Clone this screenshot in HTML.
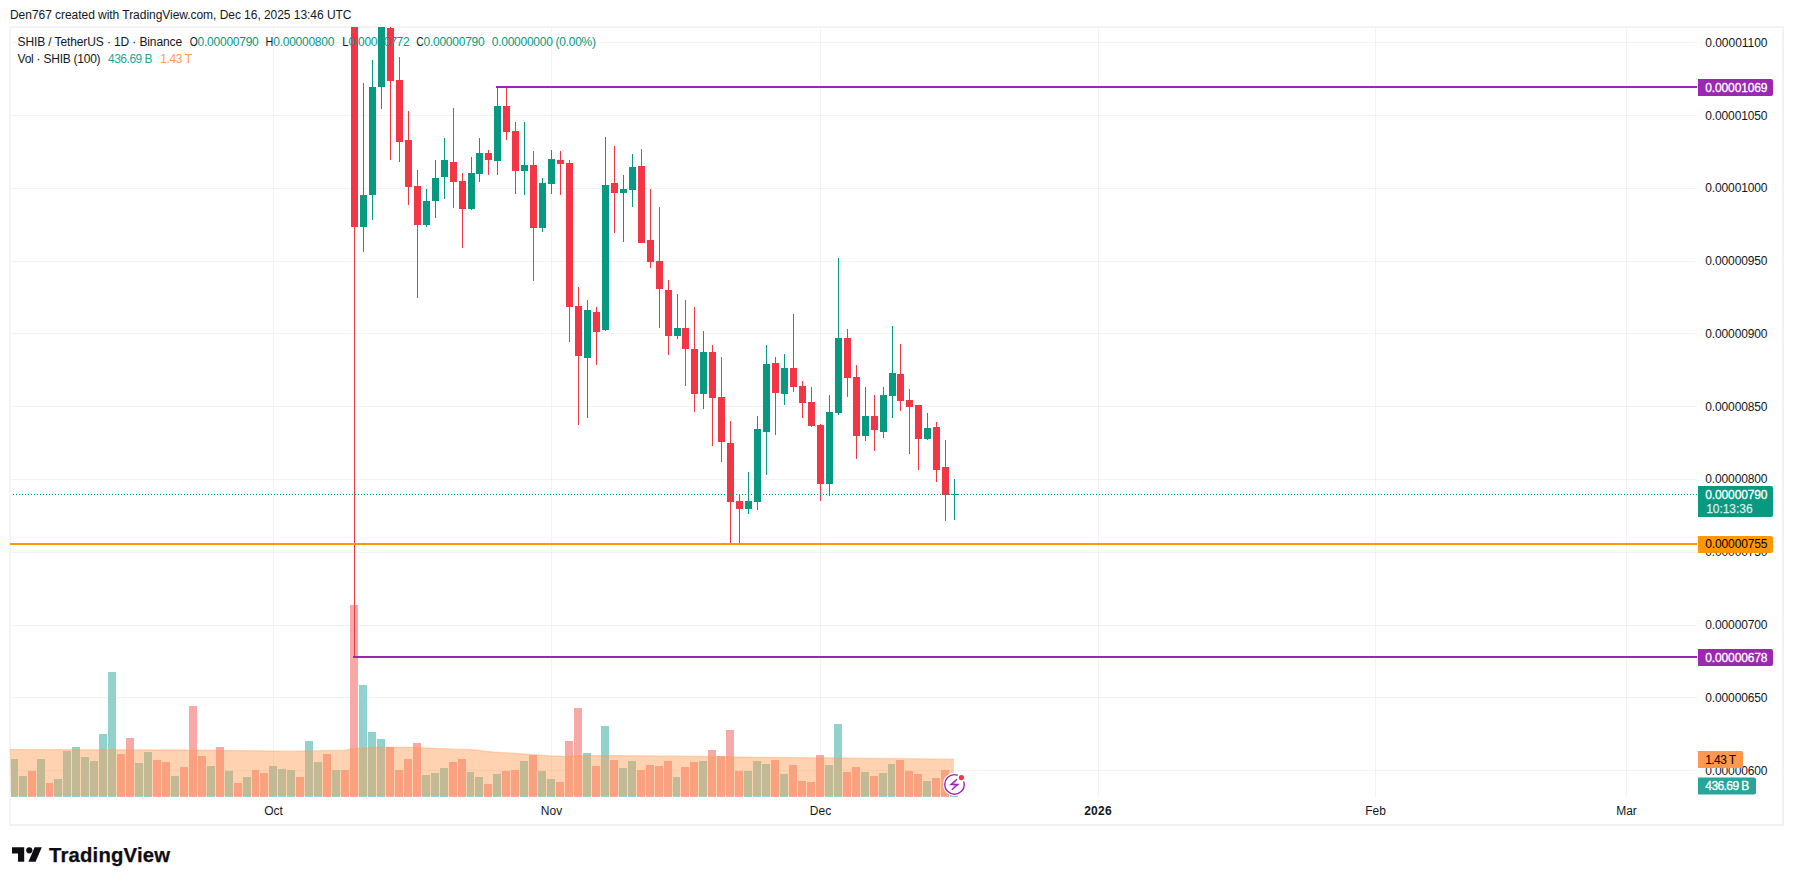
<!DOCTYPE html>
<html lang="en"><head><meta charset="utf-8"><title>SHIB / TetherUS chart</title>
<style>html,body{margin:0;padding:0;background:#fff;overflow:hidden}svg{display:block}</style>
</head><body>
<svg width="1793" height="885" viewBox="0 0 1793 885" font-family='"Liberation Sans", "DejaVu Sans", sans-serif' font-size="12">
<rect width="1793" height="885" fill="#fff"/>
<g shape-rendering="crispEdges" fill="rgba(42,46,57,0.06)">
<rect x="10" y="42" width="1687" height="1"/>
<rect x="10" y="115" width="1687" height="1"/>
<rect x="10" y="188" width="1687" height="1"/>
<rect x="10" y="261" width="1687" height="1"/>
<rect x="10" y="333" width="1687" height="1"/>
<rect x="10" y="406" width="1687" height="1"/>
<rect x="10" y="479" width="1687" height="1"/>
<rect x="10" y="552" width="1687" height="1"/>
<rect x="10" y="625" width="1687" height="1"/>
<rect x="10" y="697" width="1687" height="1"/>
<rect x="10" y="770" width="1687" height="1"/>
<rect x="273" y="27" width="1" height="770"/>
<rect x="551" y="27" width="1" height="770"/>
<rect x="820" y="27" width="1" height="770"/>
<rect x="1098" y="27" width="1" height="770"/>
<rect x="1375" y="27" width="1" height="770"/>
<rect x="1626" y="27" width="1" height="770"/>
</g>
<g fill="#F2F2F2">
<rect x="9.3" y="26.2" width="1774.7" height="1.8"/>
<rect x="9.3" y="824" width="1774.7" height="2"/>
<rect x="9.3" y="28" width="1.7" height="796"/>
<rect x="1782" y="28" width="2" height="796"/>
</g>
<g shape-rendering="crispEdges">
<rect x="11" y="759" width="7" height="38" fill="#92D2CC"/>
<rect x="19" y="776" width="8" height="21" fill="#92D2CC"/>
<rect x="28" y="771" width="8" height="26" fill="#F7A9A7"/>
<rect x="37" y="759" width="8" height="38" fill="#92D2CC"/>
<rect x="46" y="783" width="7" height="14" fill="#F7A9A7"/>
<rect x="54" y="779" width="8" height="18" fill="#92D2CC"/>
<rect x="63" y="751" width="8" height="46" fill="#92D2CC"/>
<rect x="72" y="747" width="8" height="50" fill="#92D2CC"/>
<rect x="81" y="757" width="8" height="40" fill="#92D2CC"/>
<rect x="90" y="761" width="8" height="36" fill="#92D2CC"/>
<rect x="99" y="734" width="8" height="63" fill="#92D2CC"/>
<rect x="108" y="672" width="8" height="125" fill="#92D2CC"/>
<rect x="117" y="754" width="8" height="43" fill="#F7A9A7"/>
<rect x="126" y="738" width="8" height="59" fill="#F7A9A7"/>
<rect x="135" y="763" width="8" height="34" fill="#92D2CC"/>
<rect x="144" y="752" width="8" height="45" fill="#92D2CC"/>
<rect x="153" y="760" width="8" height="37" fill="#F7A9A7"/>
<rect x="162" y="762" width="8" height="35" fill="#F7A9A7"/>
<rect x="171" y="776" width="8" height="21" fill="#92D2CC"/>
<rect x="180" y="767" width="8" height="30" fill="#F7A9A7"/>
<rect x="189" y="706" width="8" height="91" fill="#F7A9A7"/>
<rect x="198" y="756" width="8" height="41" fill="#F7A9A7"/>
<rect x="207" y="766" width="8" height="31" fill="#92D2CC"/>
<rect x="216" y="747" width="8" height="50" fill="#F7A9A7"/>
<rect x="225" y="771" width="8" height="26" fill="#92D2CC"/>
<rect x="234" y="783" width="8" height="14" fill="#F7A9A7"/>
<rect x="243" y="777" width="8" height="20" fill="#92D2CC"/>
<rect x="252" y="770" width="7" height="27" fill="#F7A9A7"/>
<rect x="260" y="773" width="8" height="24" fill="#F7A9A7"/>
<rect x="269" y="766" width="8" height="31" fill="#92D2CC"/>
<rect x="278" y="769" width="8" height="28" fill="#92D2CC"/>
<rect x="287" y="770" width="8" height="27" fill="#92D2CC"/>
<rect x="296" y="777" width="8" height="20" fill="#F7A9A7"/>
<rect x="305" y="741" width="8" height="56" fill="#92D2CC"/>
<rect x="314" y="762" width="8" height="35" fill="#92D2CC"/>
<rect x="323" y="754" width="8" height="43" fill="#F7A9A7"/>
<rect x="332" y="770" width="8" height="27" fill="#92D2CC"/>
<rect x="341" y="770" width="8" height="27" fill="#F7A9A7"/>
<rect x="350" y="605" width="8" height="192" fill="#F7A9A7"/>
<rect x="359" y="685" width="8" height="112" fill="#92D2CC"/>
<rect x="368" y="732" width="8" height="65" fill="#92D2CC"/>
<rect x="377" y="739" width="8" height="58" fill="#92D2CC"/>
<rect x="386" y="747" width="8" height="50" fill="#F7A9A7"/>
<rect x="395" y="770" width="8" height="27" fill="#F7A9A7"/>
<rect x="404" y="759" width="8" height="38" fill="#F7A9A7"/>
<rect x="413" y="743" width="8" height="54" fill="#F7A9A7"/>
<rect x="422" y="775" width="8" height="22" fill="#92D2CC"/>
<rect x="431" y="773" width="8" height="24" fill="#92D2CC"/>
<rect x="440" y="768" width="8" height="29" fill="#92D2CC"/>
<rect x="449" y="762" width="8" height="35" fill="#F7A9A7"/>
<rect x="458" y="759" width="8" height="38" fill="#F7A9A7"/>
<rect x="467" y="772" width="7" height="25" fill="#92D2CC"/>
<rect x="475" y="777" width="8" height="20" fill="#92D2CC"/>
<rect x="484" y="784" width="8" height="13" fill="#F7A9A7"/>
<rect x="493" y="774" width="8" height="23" fill="#92D2CC"/>
<rect x="502" y="771" width="8" height="26" fill="#F7A9A7"/>
<rect x="511" y="770" width="8" height="27" fill="#F7A9A7"/>
<rect x="520" y="761" width="8" height="36" fill="#92D2CC"/>
<rect x="529" y="755" width="8" height="42" fill="#F7A9A7"/>
<rect x="538" y="771" width="8" height="26" fill="#92D2CC"/>
<rect x="547" y="779" width="8" height="18" fill="#92D2CC"/>
<rect x="556" y="782" width="8" height="15" fill="#F7A9A7"/>
<rect x="565" y="741" width="8" height="56" fill="#F7A9A7"/>
<rect x="574" y="708" width="8" height="89" fill="#F7A9A7"/>
<rect x="583" y="753" width="8" height="44" fill="#92D2CC"/>
<rect x="592" y="766" width="8" height="31" fill="#F7A9A7"/>
<rect x="601" y="726" width="8" height="71" fill="#92D2CC"/>
<rect x="610" y="760" width="8" height="37" fill="#F7A9A7"/>
<rect x="619" y="768" width="8" height="29" fill="#92D2CC"/>
<rect x="628" y="761" width="8" height="36" fill="#92D2CC"/>
<rect x="637" y="770" width="8" height="27" fill="#F7A9A7"/>
<rect x="646" y="765" width="8" height="32" fill="#F7A9A7"/>
<rect x="655" y="766" width="8" height="31" fill="#F7A9A7"/>
<rect x="664" y="761" width="8" height="36" fill="#F7A9A7"/>
<rect x="673" y="777" width="7" height="20" fill="#92D2CC"/>
<rect x="681" y="767" width="8" height="30" fill="#F7A9A7"/>
<rect x="690" y="762" width="8" height="35" fill="#F7A9A7"/>
<rect x="699" y="761" width="8" height="36" fill="#92D2CC"/>
<rect x="708" y="750" width="8" height="47" fill="#F7A9A7"/>
<rect x="717" y="756" width="8" height="41" fill="#F7A9A7"/>
<rect x="726" y="730" width="8" height="67" fill="#F7A9A7"/>
<rect x="735" y="771" width="8" height="26" fill="#F7A9A7"/>
<rect x="744" y="771" width="8" height="26" fill="#92D2CC"/>
<rect x="753" y="761" width="8" height="36" fill="#92D2CC"/>
<rect x="762" y="764" width="8" height="33" fill="#92D2CC"/>
<rect x="771" y="760" width="8" height="37" fill="#F7A9A7"/>
<rect x="780" y="774" width="8" height="23" fill="#92D2CC"/>
<rect x="789" y="765" width="8" height="32" fill="#F7A9A7"/>
<rect x="798" y="781" width="8" height="16" fill="#F7A9A7"/>
<rect x="807" y="782" width="8" height="15" fill="#F7A9A7"/>
<rect x="816" y="755" width="8" height="42" fill="#F7A9A7"/>
<rect x="825" y="765" width="8" height="32" fill="#92D2CC"/>
<rect x="834" y="724" width="8" height="73" fill="#92D2CC"/>
<rect x="843" y="772" width="8" height="25" fill="#F7A9A7"/>
<rect x="852" y="767" width="8" height="30" fill="#F7A9A7"/>
<rect x="861" y="772" width="8" height="25" fill="#92D2CC"/>
<rect x="870" y="776" width="8" height="21" fill="#F7A9A7"/>
<rect x="879" y="773" width="8" height="24" fill="#92D2CC"/>
<rect x="888" y="764" width="7" height="33" fill="#92D2CC"/>
<rect x="896" y="760" width="8" height="37" fill="#F7A9A7"/>
<rect x="905" y="771" width="8" height="26" fill="#F7A9A7"/>
<rect x="914" y="774" width="8" height="23" fill="#F7A9A7"/>
<rect x="923" y="781" width="8" height="16" fill="#92D2CC"/>
<rect x="932" y="778" width="8" height="19" fill="#F7A9A7"/>
<rect x="941" y="770" width="8" height="27" fill="#F7A9A7"/>
<rect x="950" y="795" width="8" height="2" fill="#92D2CC"/>
</g>
<polygon points="10,749.6 120,749.8 178,750.0 240,750.6 290,751.2 317,750.7 345,750.2 350,749.2 357,748.4 374,747.5 387,747.2 410,747.3 430,748.1 456,749.2 470,749.5 493,752.0 517,753.5 530,754.5 550,755.85 564,756.3 582,755.6 616,755.6 660,755.9 705,756.5 760,757.3 860,758.2 954,759.2 954,796 11,796" fill="rgb(255,152,80)" fill-opacity="0.44"/>
<polyline points="10,749.6 120,749.8 178,750.0 240,750.6 290,751.2 317,750.7 345,750.2 350,749.2 357,748.4 374,747.5 387,747.2 410,747.3 430,748.1 456,749.2 470,749.5 493,752.0 517,753.5 530,754.5 550,755.85 564,756.3 582,755.6 616,755.6 660,755.9 705,756.5 760,757.3 860,758.2 954,759.2" fill="none" stroke="rgb(255,152,80)" stroke-opacity="0.32" stroke-width="1.3"/>
<g shape-rendering="crispEdges">
<rect x="354" y="27" width="1" height="630" fill="#F23645"/>
<rect x="351" y="27" width="7" height="200" fill="#F23645"/>
<rect x="363" y="83" width="1" height="169" fill="#089981"/>
<rect x="360" y="195" width="7" height="32" fill="#089981"/>
<rect x="372" y="60" width="1" height="160" fill="#089981"/>
<rect x="369" y="87" width="7" height="108" fill="#089981"/>
<rect x="381" y="27" width="1" height="82" fill="#089981"/>
<rect x="378" y="27" width="7" height="60" fill="#089981"/>
<rect x="390" y="27" width="1" height="133" fill="#F23645"/>
<rect x="387" y="28" width="7" height="53" fill="#F23645"/>
<rect x="399" y="57" width="1" height="105" fill="#F23645"/>
<rect x="396" y="80" width="7" height="62" fill="#F23645"/>
<rect x="408" y="111" width="1" height="94" fill="#F23645"/>
<rect x="405" y="140" width="7" height="47" fill="#F23645"/>
<rect x="417" y="170" width="1" height="128" fill="#F23645"/>
<rect x="414" y="186" width="7" height="39" fill="#F23645"/>
<rect x="426" y="189" width="1" height="38" fill="#089981"/>
<rect x="423" y="201" width="7" height="24" fill="#089981"/>
<rect x="435" y="160" width="1" height="58" fill="#089981"/>
<rect x="432" y="178" width="7" height="23" fill="#089981"/>
<rect x="444" y="138" width="1" height="61" fill="#089981"/>
<rect x="441" y="160" width="7" height="17" fill="#089981"/>
<rect x="453" y="108" width="1" height="100" fill="#F23645"/>
<rect x="450" y="162" width="7" height="20" fill="#F23645"/>
<rect x="462" y="173" width="1" height="75" fill="#F23645"/>
<rect x="459" y="181" width="7" height="28" fill="#F23645"/>
<rect x="471" y="157" width="1" height="53" fill="#089981"/>
<rect x="468" y="173" width="7" height="36" fill="#089981"/>
<rect x="479" y="138" width="1" height="44" fill="#089981"/>
<rect x="476" y="153" width="7" height="21" fill="#089981"/>
<rect x="488" y="150" width="1" height="25" fill="#F23645"/>
<rect x="485" y="153" width="7" height="7" fill="#F23645"/>
<rect x="497" y="87" width="1" height="88" fill="#089981"/>
<rect x="494" y="106" width="7" height="55" fill="#089981"/>
<rect x="506" y="88" width="1" height="52" fill="#F23645"/>
<rect x="503" y="106" width="7" height="26" fill="#F23645"/>
<rect x="515" y="122" width="1" height="72" fill="#F23645"/>
<rect x="512" y="131" width="7" height="40" fill="#F23645"/>
<rect x="524" y="122" width="1" height="73" fill="#089981"/>
<rect x="521" y="165" width="7" height="6" fill="#089981"/>
<rect x="533" y="151" width="1" height="130" fill="#F23645"/>
<rect x="530" y="165" width="7" height="63" fill="#F23645"/>
<rect x="542" y="178" width="1" height="54" fill="#089981"/>
<rect x="539" y="183" width="7" height="45" fill="#089981"/>
<rect x="551" y="150" width="1" height="44" fill="#089981"/>
<rect x="548" y="159" width="7" height="25" fill="#089981"/>
<rect x="560" y="151" width="1" height="44" fill="#F23645"/>
<rect x="557" y="160" width="7" height="4" fill="#F23645"/>
<rect x="569" y="160" width="1" height="182" fill="#F23645"/>
<rect x="566" y="163" width="7" height="144" fill="#F23645"/>
<rect x="578" y="287" width="1" height="138" fill="#F23645"/>
<rect x="575" y="306" width="7" height="50" fill="#F23645"/>
<rect x="587" y="300" width="1" height="118" fill="#089981"/>
<rect x="584" y="310" width="7" height="48" fill="#089981"/>
<rect x="596" y="307" width="1" height="58" fill="#F23645"/>
<rect x="593" y="312" width="7" height="20" fill="#F23645"/>
<rect x="605" y="137" width="1" height="194" fill="#089981"/>
<rect x="602" y="185" width="7" height="145" fill="#089981"/>
<rect x="614" y="146" width="1" height="87" fill="#F23645"/>
<rect x="611" y="183" width="7" height="10" fill="#F23645"/>
<rect x="623" y="175" width="1" height="67" fill="#089981"/>
<rect x="620" y="189" width="7" height="4" fill="#089981"/>
<rect x="632" y="154" width="1" height="53" fill="#089981"/>
<rect x="629" y="167" width="7" height="23" fill="#089981"/>
<rect x="641" y="149" width="1" height="94" fill="#F23645"/>
<rect x="638" y="166" width="7" height="77" fill="#F23645"/>
<rect x="650" y="189" width="1" height="79" fill="#F23645"/>
<rect x="647" y="240" width="7" height="22" fill="#F23645"/>
<rect x="659" y="207" width="1" height="121" fill="#F23645"/>
<rect x="656" y="261" width="7" height="28" fill="#F23645"/>
<rect x="668" y="280" width="1" height="75" fill="#F23645"/>
<rect x="665" y="290" width="7" height="46" fill="#F23645"/>
<rect x="677" y="294" width="1" height="45" fill="#089981"/>
<rect x="674" y="328" width="7" height="8" fill="#089981"/>
<rect x="685" y="300" width="1" height="86" fill="#F23645"/>
<rect x="682" y="328" width="7" height="21" fill="#F23645"/>
<rect x="694" y="307" width="1" height="105" fill="#F23645"/>
<rect x="691" y="349" width="7" height="45" fill="#F23645"/>
<rect x="703" y="331" width="1" height="78" fill="#089981"/>
<rect x="700" y="352" width="7" height="42" fill="#089981"/>
<rect x="712" y="345" width="1" height="101" fill="#F23645"/>
<rect x="709" y="352" width="7" height="46" fill="#F23645"/>
<rect x="721" y="357" width="1" height="105" fill="#F23645"/>
<rect x="718" y="397" width="7" height="45" fill="#F23645"/>
<rect x="730" y="421" width="1" height="122" fill="#F23645"/>
<rect x="727" y="443" width="7" height="59" fill="#F23645"/>
<rect x="739" y="495" width="1" height="48" fill="#F23645"/>
<rect x="736" y="501" width="7" height="8" fill="#F23645"/>
<rect x="748" y="472" width="1" height="42" fill="#089981"/>
<rect x="745" y="501" width="7" height="8" fill="#089981"/>
<rect x="757" y="416" width="1" height="94" fill="#089981"/>
<rect x="754" y="429" width="7" height="73" fill="#089981"/>
<rect x="766" y="345" width="1" height="130" fill="#089981"/>
<rect x="763" y="364" width="7" height="68" fill="#089981"/>
<rect x="775" y="357" width="1" height="78" fill="#F23645"/>
<rect x="772" y="363" width="7" height="30" fill="#F23645"/>
<rect x="784" y="354" width="1" height="51" fill="#089981"/>
<rect x="781" y="368" width="7" height="26" fill="#089981"/>
<rect x="793" y="314" width="1" height="78" fill="#F23645"/>
<rect x="790" y="368" width="7" height="19" fill="#F23645"/>
<rect x="802" y="381" width="1" height="37" fill="#F23645"/>
<rect x="799" y="386" width="7" height="17" fill="#F23645"/>
<rect x="811" y="387" width="1" height="40" fill="#F23645"/>
<rect x="808" y="402" width="7" height="24" fill="#F23645"/>
<rect x="820" y="424" width="1" height="77" fill="#F23645"/>
<rect x="817" y="425" width="7" height="59" fill="#F23645"/>
<rect x="829" y="395" width="1" height="101" fill="#089981"/>
<rect x="826" y="412" width="7" height="72" fill="#089981"/>
<rect x="838" y="258" width="1" height="157" fill="#089981"/>
<rect x="835" y="338" width="7" height="75" fill="#089981"/>
<rect x="847" y="329" width="1" height="68" fill="#F23645"/>
<rect x="844" y="338" width="7" height="40" fill="#F23645"/>
<rect x="856" y="365" width="1" height="94" fill="#F23645"/>
<rect x="853" y="377" width="7" height="59" fill="#F23645"/>
<rect x="865" y="387" width="1" height="54" fill="#089981"/>
<rect x="862" y="416" width="7" height="20" fill="#089981"/>
<rect x="874" y="395" width="1" height="56" fill="#F23645"/>
<rect x="871" y="416" width="7" height="14" fill="#F23645"/>
<rect x="883" y="387" width="1" height="51" fill="#089981"/>
<rect x="880" y="395" width="7" height="37" fill="#089981"/>
<rect x="892" y="326" width="1" height="92" fill="#089981"/>
<rect x="889" y="373" width="7" height="23" fill="#089981"/>
<rect x="900" y="344" width="1" height="67" fill="#F23645"/>
<rect x="897" y="374" width="7" height="27" fill="#F23645"/>
<rect x="909" y="389" width="1" height="65" fill="#F23645"/>
<rect x="906" y="400" width="7" height="7" fill="#F23645"/>
<rect x="918" y="405" width="1" height="65" fill="#F23645"/>
<rect x="915" y="405" width="7" height="34" fill="#F23645"/>
<rect x="927" y="413" width="1" height="27" fill="#089981"/>
<rect x="924" y="428" width="7" height="11" fill="#089981"/>
<rect x="936" y="422" width="1" height="60" fill="#F23645"/>
<rect x="933" y="427" width="7" height="43" fill="#F23645"/>
<rect x="945" y="440" width="1" height="81" fill="#F23645"/>
<rect x="942" y="467" width="7" height="28" fill="#F23645"/>
<rect x="954" y="479" width="1" height="41" fill="#089981"/>
<rect x="951" y="494" width="7" height="1" fill="#089981"/>
</g>
<g shape-rendering="crispEdges">
<rect x="496" y="86" width="1201" height="2" fill="#9C27B0"/>
<rect x="353" y="656" width="1344" height="2" fill="#9C27B0"/>
<rect x="10" y="543" width="1687" height="2" fill="#FF9800"/>
<line x1="13" y1="494.5" x2="1697" y2="494.5" stroke="#089981" stroke-width="1" stroke-dasharray="1 2"/>
</g>
<text x="10" y="19.1" fill="#131722" textLength="341.5" lengthAdjust="spacing">Den767 created with TradingView.com, Dec 16, 2025 13:46 UTC</text>
<text x="17.6" y="46" fill="#131722" textLength="164.5" lengthAdjust="spacing">SHIB / TetherUS · 1D · Binance</text>
<text x="189.8" y="46" fill="#131722" textLength="8.0" lengthAdjust="spacingAndGlyphs">O</text>
<text x="197.6" y="46" fill="#089981" textLength="61.2" lengthAdjust="spacing">0.00000790</text>
<text x="265.6" y="46" fill="#131722" textLength="7.8" lengthAdjust="spacingAndGlyphs">H</text>
<text x="273.2" y="46" fill="#089981" textLength="61.2" lengthAdjust="spacing">0.00000800</text>
<text x="342.2" y="46" fill="#131722" textLength="6.2" lengthAdjust="spacingAndGlyphs">L</text>
<text x="348.5" y="46" fill="#089981" textLength="61.2" lengthAdjust="spacing">0.00000772</text>
<text x="416.2" y="46" fill="#131722" textLength="7.4" lengthAdjust="spacingAndGlyphs">C</text>
<text x="423.5" y="46" fill="#089981" textLength="61.2" lengthAdjust="spacing">0.00000790</text>
<text x="491.8" y="46" fill="#089981" textLength="104.2" lengthAdjust="spacing">0.00000000 (0.00%)</text>
<text x="17.6" y="63" fill="#131722" textLength="83" lengthAdjust="spacing">Vol · SHIB (100)</text>
<text x="108" y="63" fill="#26A69A" textLength="44.6" lengthAdjust="spacing">436.69 B</text>
<text x="160.2" y="63" fill="#FF9850" textLength="32" lengthAdjust="spacing">1.43 T</text>
<text x="1705.3" y="47" fill="#131722" textLength="62.2" lengthAdjust="spacing">0.00001100</text>
<text x="1705.3" y="120" fill="#131722" textLength="62.2" lengthAdjust="spacing">0.00001050</text>
<text x="1705.3" y="192" fill="#131722" textLength="62.2" lengthAdjust="spacing">0.00001000</text>
<text x="1705.3" y="265" fill="#131722" textLength="62.2" lengthAdjust="spacing">0.00000950</text>
<text x="1705.3" y="338" fill="#131722" textLength="62.2" lengthAdjust="spacing">0.00000900</text>
<text x="1705.3" y="411" fill="#131722" textLength="62.2" lengthAdjust="spacing">0.00000850</text>
<text x="1705.3" y="483" fill="#131722" textLength="62.2" lengthAdjust="spacing">0.00000800</text>
<text x="1705.3" y="556" fill="#131722" textLength="62.2" lengthAdjust="spacing">0.00000750</text>
<text x="1705.3" y="629" fill="#131722" textLength="62.2" lengthAdjust="spacing">0.00000700</text>
<text x="1705.3" y="702" fill="#131722" textLength="62.2" lengthAdjust="spacing">0.00000650</text>
<text x="1705.3" y="775" fill="#131722" textLength="62.2" lengthAdjust="spacing">0.00000600</text>
<path d="M1698 79h73a2 2 0 0 1 2 2v13a2 2 0 0 1 -2 2h-73z" fill="#9C27B0"/>
<text x="1705.3" y="92" fill="#fff" textLength="62.2" lengthAdjust="spacing" stroke="#fff" stroke-width="0.3">0.00001069</text>
<path d="M1698 486h73a2 2 0 0 1 2 2v27a2 2 0 0 1 -2 2h-73z" fill="#089981"/>
<text x="1705.3" y="498.6" fill="#fff" textLength="62.2" lengthAdjust="spacing" stroke="#fff" stroke-width="0.3">0.00000790</text>
<text x="1706.2" y="512.6" fill="#fff" textLength="46.4" lengthAdjust="spacing" fill-opacity="0.8" stroke="#fff" stroke-width="0.25" stroke-opacity="0.8">10:13:36</text>
<path d="M1698 536h73a2 2 0 0 1 2 2v13a2 2 0 0 1 -2 2h-73z" fill="#FF9800"/>
<text x="1705.3" y="548.4" fill="#000" textLength="62.2" lengthAdjust="spacing">0.00000755</text>
<path d="M1698 649h73a2 2 0 0 1 2 2v13a2 2 0 0 1 -2 2h-73z" fill="#9C27B0"/>
<text x="1705.3" y="662" fill="#fff" textLength="62.2" lengthAdjust="spacing" stroke="#fff" stroke-width="0.3">0.00000678</text>
<path d="M1698 751h43a2 2 0 0 1 2 2v13a2 2 0 0 1 -2 2h-43z" fill="#FF9850"/>
<text x="1705.3" y="764" fill="#000" textLength="30.8" lengthAdjust="spacing">1.43 T</text>
<path d="M1698 777.5h56a2 2 0 0 1 2 2v13a2 2 0 0 1 -2 2h-56z" fill="#26A69A"/>
<text x="1705.3" y="790" fill="#fff" textLength="44" lengthAdjust="spacing" stroke="#fff" stroke-width="0.3">436.69 B</text>
<text x="273.5" y="815" fill="#131722" text-anchor="middle">Oct</text>
<text x="551.5" y="815" fill="#131722" text-anchor="middle">Nov</text>
<text x="820.5" y="815" fill="#131722" text-anchor="middle">Dec</text>
<text x="1097.9" y="815" fill="#131722" text-anchor="middle" font-weight="bold" textLength="27.4" lengthAdjust="spacing">2026</text>
<text x="1375.5" y="815" fill="#131722" text-anchor="middle">Feb</text>
<text x="1626.5" y="815" fill="#131722" text-anchor="middle">Mar</text>
<circle cx="954.5" cy="784.4" r="11.6" fill="#fff"/>
<circle cx="954.5" cy="784.4" r="9.8" fill="#fff" stroke="#9C27B0" stroke-width="1.4"/>
<circle cx="961.4" cy="777.6" r="4.3" fill="#fff"/>
<circle cx="961.4" cy="777.6" r="2.6" fill="#F23645"/>
<path d="M957 779.3L950.8 784.5H958L951.8 789.7" fill="#9C27B0" fill-opacity="0.45" stroke="#9C27B0" stroke-width="1.3" stroke-linejoin="miter" stroke-miterlimit="10"/>
<g fill="#0E0E12">
<path d="M12 847.2h12.2v14.6h-6.2v-8.4h-6z"/>
<circle cx="29.3" cy="850.3" r="3.1"/>
<path d="M34.6 847.2h7.2l-6.2 14.6h-7.2z"/>
</g>
<text x="49" y="861.8" fill="#0E0E12" font-weight="bold" font-size="20.3" textLength="121" lengthAdjust="spacing" stroke="#0E0E12" stroke-width="0.25">TradingView</text>
</svg>
</body></html>
